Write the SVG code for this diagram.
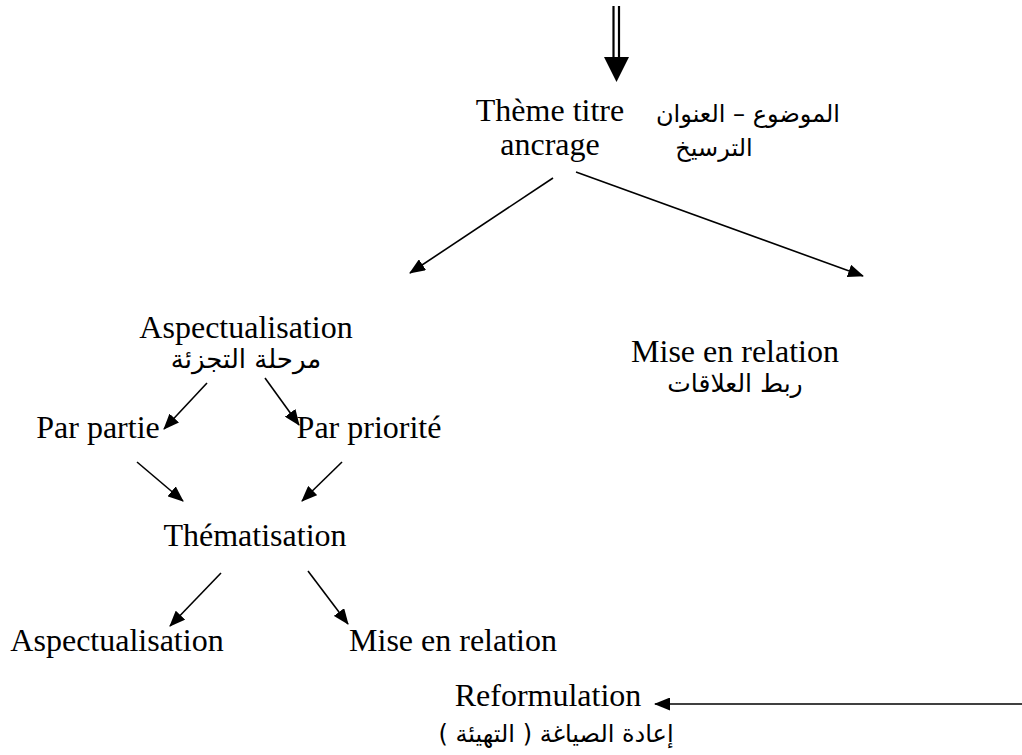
<svg xmlns="http://www.w3.org/2000/svg" width="1022" height="755" viewBox="0 0 1022 755">
  <style>
    .lat { font-family: "Liberation Serif", "Times New Roman", serif; font-size: 32px; fill: #000; text-anchor: middle; }
    .ar { font-family: "DejaVu Sans", "Noto Sans", sans-serif; font-size: 24px; fill: #000; text-anchor: middle; direction: rtl; }
    .edge { stroke: #000; stroke-width: 1.6; fill: none; marker-end: url(#head); }
  </style>
  <defs>
    <marker id="head" viewBox="0 0 16 13" refX="15" refY="6.5" markerWidth="16" markerHeight="13" markerUnits="userSpaceOnUse" orient="auto">
      <path d="M0,0 L16,6.5 L0,13 z" fill="#000"/>
    </marker>
  </defs>

  <rect width="1022" height="755" fill="#fff"/>

  <!-- connectors -->
  <g id="connectors">
    <!-- entry double arrow -->
    <line x1="613.5" y1="6" x2="613.5" y2="58" stroke="#000" stroke-width="2.2"/>
    <line x1="619" y1="6" x2="619" y2="58" stroke="#000" stroke-width="2.2"/>
    <path d="M604,57 L629,57 L616.5,82 z" fill="#000"/>

    <line class="edge" x1="553" y1="178" x2="410" y2="273"/>
    <line class="edge" x1="576" y1="172" x2="863" y2="276"/>

    <line class="edge" x1="207" y1="383" x2="164" y2="429"/>
    <line class="edge" x1="265" y1="378" x2="299" y2="425"/>

    <line class="edge" x1="137" y1="462" x2="183" y2="501"/>
    <line class="edge" x1="342" y1="462" x2="302" y2="501"/>

    <line class="edge" x1="221" y1="573" x2="170" y2="626"/>
    <line class="edge" x1="308" y1="571" x2="348" y2="624"/>

    <line class="edge" x1="1022" y1="704" x2="655" y2="704"/>
  </g>

  <g id="theme">
    <text class="lat" x="550" y="121">Thème titre</text>
    <text class="lat" x="550" y="155">ancrage</text>
  </g>
  <g id="theme-ar">
    <text class="ar" x="748" y="122">الموضوع – العنوان</text>
    <text class="ar" x="714" y="156">الترسيخ</text>
  </g>

  <g id="aspectualisation">
    <text class="lat" x="246" y="338">Aspectualisation</text>
    <text class="ar" x="246" y="368" style="font-size:26px">مرحلة التجزئة</text>
  </g>

  <g id="mise-en-relation">
    <text class="lat" x="735" y="362">Mise en relation</text>
    <text class="ar" x="735" y="392" style="font-size:25px">ربط العلاقات</text>
  </g>

  <g id="par-partie">
    <text class="lat" x="98" y="438">Par partie</text>
  </g>
  <g id="par-priorite">
    <text class="lat" x="369" y="438">Par priorité</text>
  </g>

  <g id="thematisation">
    <text class="lat" x="255" y="546">Thématisation</text>
  </g>

  <g id="aspectualisation-2">
    <text class="lat" x="117" y="651">Aspectualisation</text>
  </g>
  <g id="mise-en-relation-2">
    <text class="lat" x="453" y="651">Mise en relation</text>
  </g>

  <g id="reformulation">
    <text class="lat" x="548" y="706">Reformulation</text>
    <text class="ar" x="556" y="742">إعادة الصياغة ( التهيئة )</text>
  </g>
</svg>
